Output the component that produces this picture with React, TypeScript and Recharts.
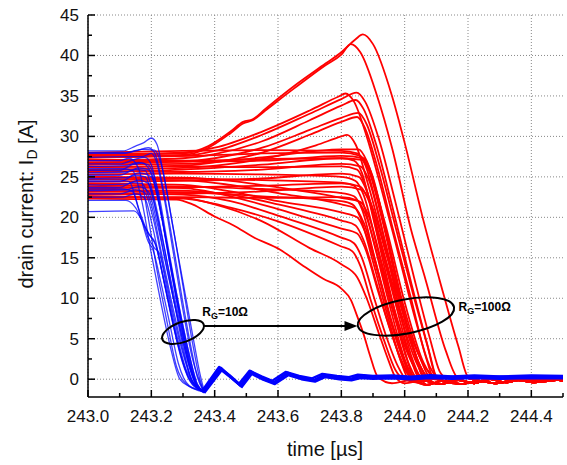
import {
  LineChart,
  Line,
  XAxis,
  YAxis,
  CartesianGrid,
  ReferenceDot,
  ReferenceLine,
} from 'recharts'

const font = 'Arial, "Liberation Sans", sans-serif'

// axis ticks
const xTicks = [243.0, 243.1, 243.2, 243.3, 243.4, 243.5, 243.6, 243.7, 243.8, 243.9, 244.0, 244.1, 244.2, 244.3, 244.4, 244.5]
const xMajor = [243.0, 243.2, 243.4, 243.6, 243.8, 244.0, 244.2, 244.4]
const yTicks = [0, 2.5, 5, 7.5, 10, 12.5, 15, 17.5, 20, 22.5, 25, 27.5, 30, 32.5, 35, 37.5, 40, 42.5, 45]
const yMajor = [0, 5, 10, 15, 20, 25, 30, 35, 40, 45]

// R_G = 100 ohm traces, [time µs, current A]
const redHigh = [
  [[243.0, 27.7], [243.3, 27.9], [243.38, 28.8], [243.45, 30.6], [243.49, 31.8], [243.52, 32.1], [243.56, 33.4], [243.65, 36.2], [243.75, 39.0], [243.8, 40.4], [243.845, 42.0], [243.868, 42.6], [243.9, 41.4], [243.96, 35], [244.0, 29.2], [244.06, 19.5], [244.11, 12.3], [244.17, 4], [244.2, 0.3]],
  [[243.0, 27.5], [243.3, 27.7], [243.38, 28.6], [243.45, 30.4], [243.49, 31.6], [243.52, 32.0], [243.56, 33.2], [243.65, 35.9], [243.75, 38.8], [243.8, 40.1], [243.83, 41.4], [243.86, 40.4], [243.913, 35], [243.96, 28.6], [244.02, 18.5], [244.066, 12.3], [244.13, 3.5], [244.165, 0.3]],
]
const redPeak = [
  [[243.0, 27.8], [243.3, 28.0], [243.4, 28.6], [243.55, 30.6], [243.7, 33.2], [243.79, 34.9], [243.813, 35.3], [243.84, 34.3], [243.88, 30], [243.93, 23], [243.98, 15.5], [244.04, 6.5], [244.08, 1.5], [244.1, 0.3]],
  [[243.0, 27.4], [243.3, 27.6], [243.4, 28.2], [243.55, 30.2], [243.7, 32.8], [243.8, 34.6], [243.848, 35.4], [243.875, 34.3], [243.92, 29.5], [243.97, 22], [244.03, 12.5], [244.08, 5], [244.11, 1], [244.125, 0.2]],
  [[243.0, 27.0], [243.3, 27.3], [243.4, 27.8], [243.55, 29.4], [243.7, 32.0], [243.8, 33.8], [243.845, 34.5], [243.87, 33.4], [243.91, 29], [243.96, 21.5], [244.02, 12], [244.07, 4.5], [244.1, 0.4]],
  [[243.0, 26.7], [243.3, 26.9], [243.4, 27.3], [243.55, 28.6], [243.7, 30.8], [243.8, 32.3], [243.854, 32.9], [243.88, 31.5], [243.92, 26.5], [243.97, 19], [244.03, 10], [244.08, 3], [244.1, 0.3]],
  [[243.0, 26.2], [243.3, 26.4], [243.4, 26.8], [243.55, 28.0], [243.7, 30.2], [243.8, 31.8], [243.85, 32.4], [243.875, 31], [243.915, 26], [243.96, 19], [244.02, 10], [244.065, 3], [244.09, 0.3]],
  [[243.0, 25.9], [243.3, 26.1], [243.45, 26.6], [243.6, 27.6], [243.72, 28.9], [243.8, 30.0], [243.818, 30.2], [243.845, 29], [243.885, 24], [243.94, 16], [244.0, 7.5], [244.045, 2], [244.07, 0.3]],
]
const redFlat = [
  [[243.0, 28.0], [243.3, 28.2], [243.55, 28.3], [243.8, 28.2], [243.85, 27.9], [243.875, 26.5], [243.92, 20], [243.97, 11], [244.02, 3], [244.05, 0.2]],
  [[243.0, 27.6], [243.3, 27.6], [243.55, 27.9], [243.8, 28.0], [243.86, 27.6], [243.885, 26], [243.93, 19.5], [243.98, 11], [244.03, 3.5], [244.06, 0.2]],
  [[243.0, 27.2], [243.3, 27.0], [243.55, 27.2], [243.8, 27.3], [243.84, 27.0], [243.865, 25.5], [243.9, 20], [243.95, 11.5], [244.0, 3.5], [244.03, 0.2]],
  [[243.0, 26.8], [243.3, 26.9], [243.55, 27.0], [243.8, 27.6], [243.87, 27.3], [243.895, 25.5], [243.94, 18.5], [243.99, 10], [244.05, 2.5], [244.08, 0.2]],
  [[243.0, 26.2], [243.3, 26.3], [243.55, 26.2], [243.8, 26.3], [243.85, 25.9], [243.875, 24], [243.92, 17], [243.97, 9.5], [244.02, 2.5], [244.045, 0.2]],
  [[243.0, 25.8], [243.3, 25.6], [243.55, 25.9], [243.8, 26.6], [243.86, 26.3], [243.885, 24.8], [243.935, 17.5], [243.99, 9], [244.045, 2], [244.07, 0.2]],
  [[243.0, 25.3], [243.3, 25.4], [243.55, 25.3], [243.8, 25.0], [243.845, 24.5], [243.87, 22.8], [243.915, 16], [243.96, 9], [244.01, 2.2], [244.035, 0.2]],
  [[243.0, 24.9], [243.3, 24.8], [243.55, 24.6], [243.8, 24.3], [243.84, 23.9], [243.865, 22.2], [243.905, 16.5], [243.95, 9.5], [244.0, 2.5], [244.025, 0.2]],
  [[243.0, 24.4], [243.3, 24.5], [243.55, 24.8], [243.8, 25.4], [243.855, 25.0], [243.88, 23.3], [243.93, 16], [243.985, 8], [244.04, 1.8], [244.065, 0.2]],
  [[243.0, 24.0], [243.3, 23.8], [243.55, 23.5], [243.8, 23.0], [243.84, 22.6], [243.865, 21], [243.905, 15], [243.95, 8], [244.0, 2], [244.02, 0.2]],
  [[243.0, 23.6], [243.3, 23.7], [243.55, 23.9], [243.8, 24.2], [243.86, 23.8], [243.885, 22.2], [243.935, 15.5], [243.99, 8], [244.05, 1.5], [244.075, 0.2]],
  [[243.0, 23.2], [243.3, 23.1], [243.55, 22.6], [243.8, 22.0], [243.835, 21.6], [243.86, 20], [243.9, 14.5], [243.945, 8], [243.99, 2], [244.01, 0.2]],
  [[243.0, 22.8], [243.3, 22.9], [243.55, 23.2], [243.8, 23.8], [243.865, 23.4], [243.89, 22], [243.945, 15], [244.0, 7.5], [244.07, 1.2], [244.1, 0.2]],
  [[243.0, 22.4], [243.3, 22.5], [243.55, 22.4], [243.8, 22.5], [243.85, 22.1], [243.875, 20.5], [243.92, 14.5], [243.97, 7.5], [244.03, 1.5], [244.055, 0.2]],
  [[243.0, 26.5], [243.3, 26.6], [243.55, 27.4], [243.8, 28.4], [243.855, 28.4], [243.88, 27], [243.925, 21], [243.975, 12], [244.03, 3.5], [244.06, 0.2]],
  [[243.0, 25.6], [243.3, 25.9], [243.55, 26.5], [243.8, 27.3], [243.865, 27.1], [243.89, 25.6], [243.94, 19], [244.0, 9.5], [244.06, 2], [244.09, 0.2]],
]
const redSag = [
  [[243.0, 23.0], [243.3, 22.8], [243.45, 22.0], [243.6, 20.2], [243.8, 17.5], [243.84, 16.8], [243.865, 15], [243.9, 10.5], [243.94, 5.5], [243.98, 1.5], [244.0, 0.2]],
  [[243.0, 23.4], [243.3, 23.3], [243.45, 22.8], [243.6, 21.6], [243.8, 19.6], [243.845, 19], [243.87, 17.2], [243.91, 12], [243.955, 6], [244.0, 1.5], [244.02, 0.2]],
  [[243.0, 24.2], [243.3, 24.0], [243.45, 23.2], [243.6, 22.0], [243.8, 20.6], [243.85, 20], [243.875, 18.2], [243.92, 12.5], [243.965, 6], [244.01, 1.2], [244.03, 0.2]],
  [[243.0, 24.7], [243.3, 24.6], [243.45, 24.0], [243.6, 23.0], [243.8, 21.6], [243.845, 21.1], [243.87, 19.4], [243.915, 13.5], [243.96, 7], [244.005, 1.8], [244.025, 0.2]],
  [[243.0, 25.0], [243.3, 24.9], [243.45, 24.5], [243.6, 23.7], [243.8, 22.4], [243.86, 21.9], [243.885, 20.3], [243.93, 14], [243.98, 7], [244.03, 1.5], [244.05, 0.2]],
  [[243.0, 23.8], [243.3, 23.6], [243.45, 22.6], [243.6, 21.0], [243.8, 18.6], [243.85, 18], [243.875, 16.2], [243.915, 11], [243.96, 5.5], [244.0, 1.2], [244.02, 0.2]],
  [[243.0, 22.6], [243.3, 22.3], [243.45, 21.2], [243.6, 19.5], [243.8, 16.4], [243.835, 15.8], [243.86, 14], [243.895, 9.5], [243.935, 4.8], [243.97, 1.2], [243.99, 0.2]],
  [[243.0, 22.6], [243.3, 22.4], [243.4, 21.6], [243.55, 19.5], [243.7, 16.2], [243.8, 14.2], [243.85, 12.6], [243.88, 10], [243.92, 5.5], [243.95, 2.2], [243.97, 0.3]],
  [[243.0, 22.3], [243.28, 22.2], [243.33, 21.6], [243.4, 20.1], [243.46, 19.0], [243.52, 17.6], [243.607, 16.0], [243.68, 14.0], [243.743, 12.4], [243.8, 11.2], [243.83, 9.8], [243.85, 7.8], [243.87, 5.6], [243.89, 3.0], [243.915, 0.3]],
]
// noisy settled current after turn-off
const redTails = [
  [[243.94, -0.3], [243.99, 0.2], [244.04, -0.4], [244.09, 0.1], [244.14, -0.3], [244.19, 0.2], [244.24, -0.2], [244.29, 0.2], [244.34, -0.2], [244.39, 0.1], [244.44, -0.1], [244.5, 0.2]],
  [[243.95, 0.1], [244.0, -0.5], [244.06, -0.1], [244.11, -0.6], [244.17, -0.1], [244.22, -0.5], [244.27, 0], [244.32, -0.4], [244.37, 0], [244.43, -0.3], [244.5, 0]],
  [[243.96, -0.5], [244.02, -0.1], [244.07, -0.7], [244.12, -0.2], [244.18, -0.6], [244.23, -0.2], [244.29, -0.5], [244.35, -0.1], [244.41, -0.4], [244.46, 0], [244.5, -0.2]],
]

// R_G = 10 ohm traces, fall edge
const blueFall = [
  [[243.0, 28.2], [243.11, 28.2], [243.15, 28.8], [243.175, 29.2], [243.2, 29.8], [243.218, 29.0], [243.24, 25], [243.27, 18.5], [243.3, 11.5], [243.33, 4.5], [243.35, 0.5], [243.366, -1.6]],
  [[243.0, 27.9], [243.11, 27.9], [243.15, 28.2], [243.19, 28.6], [243.21, 28.0], [243.235, 24], [243.265, 17.5], [243.295, 10.5], [243.325, 4], [243.345, 0.3], [243.365, -1.5]],
  [[243.0, 27.4], [243.12, 27.5], [243.17, 27.5], [243.2, 27.9], [243.215, 27.0], [243.24, 22.5], [243.27, 15.5], [243.3, 8.5], [243.33, 2.5], [243.365, -1.5]],
  [[243.0, 26.6], [243.1, 26.6], [243.15, 27.2], [243.18, 27.4], [243.2, 26.5], [243.225, 22], [243.255, 15], [243.29, 8], [243.32, 2.5], [243.345, -0.8], [243.364, -1.4]],
  [[243.0, 26.3], [243.12, 26.4], [243.16, 26.8], [243.19, 26.5], [243.22, 23.5], [243.25, 17], [243.285, 9.5], [243.32, 3], [243.345, -0.6], [243.365, -1.5]],
  [[243.0, 25.8], [243.1, 25.8], [243.14, 26.5], [243.17, 26.7], [243.2, 25.5], [243.23, 20.5], [243.26, 14], [243.29, 7.5], [243.32, 1.8], [243.345, -0.9], [243.366, -1.7]],
  [[243.0, 25.5], [243.12, 25.6], [243.16, 26.1], [243.19, 25.9], [243.215, 23.5], [243.245, 17.5], [243.28, 10], [243.31, 4], [243.34, -0.5], [243.365, -1.5]],
  [[243.0, 25.2], [243.1, 25.2], [243.15, 25.9], [243.18, 25.8], [243.205, 23], [243.24, 16.5], [243.27, 10], [243.3, 4], [243.33, -0.3], [243.364, -1.4]],
  [[243.0, 24.8], [243.12, 24.9], [243.16, 25.5], [243.2, 25.0], [243.225, 21.5], [243.26, 14.5], [243.29, 8.5], [243.32, 3], [243.345, -0.6], [243.365, -1.5]],
  [[243.0, 24.4], [243.1, 24.4], [243.15, 25.2], [243.18, 25.0], [243.21, 21.5], [243.24, 15.5], [243.275, 9], [243.31, 3], [243.34, -0.7], [243.366, -1.6]],
  [[243.0, 24.0], [243.12, 24.1], [243.16, 24.6], [243.19, 24.2], [243.22, 20], [243.255, 13.5], [243.29, 7], [243.32, 2], [243.345, -0.8], [243.365, -1.5]],
  [[243.0, 23.7], [243.1, 23.7], [243.14, 24.3], [243.17, 24.2], [243.2, 21.5], [243.235, 15], [243.27, 8.5], [243.3, 3.5], [243.33, -0.4], [243.364, -1.4]],
  [[243.0, 23.3], [243.12, 23.4], [243.16, 23.8], [243.19, 23.2], [243.22, 19], [243.255, 12.5], [243.29, 6.5], [243.32, 1.5], [243.345, -0.9], [243.365, -1.5]],
  [[243.0, 22.9], [243.1, 22.9], [243.15, 23.4], [243.18, 23.0], [243.205, 20], [243.24, 13.5], [243.275, 7], [243.305, 2.5], [243.335, -0.6], [243.366, -1.6]],
  [[243.0, 22.5], [243.11, 22.5], [243.15, 22.9], [243.18, 22.3], [243.2, 19.5], [243.23, 14], [243.26, 8.5], [243.29, 3.5], [243.32, 0], [243.365, -1.5]],
  [[243.0, 22.1], [243.12, 22.1], [243.15, 21.2], [243.18, 18.8], [243.2, 17.5], [243.215, 16.5], [243.24, 12], [243.27, 6.5], [243.3, 2], [243.33, -0.6], [243.364, -1.4]],
  [[243.0, 20.7], [243.145, 20.8], [243.17, 19.6], [243.19, 17.5], [243.21, 16.2], [243.225, 15.6], [243.25, 11], [243.28, 5.5], [243.31, 1.2], [243.34, -0.8], [243.365, -1.5]],
  [[243.0, 27.0], [243.1, 27.0], [243.13, 27.3], [243.16, 26], [243.19, 20], [243.22, 13], [243.25, 7], [243.28, 1.5], [243.31, -0.6], [243.366, -1.6]],
  [[243.0, 26.0], [243.11, 26.0], [243.14, 25.8], [243.17, 22], [243.2, 15.5], [243.23, 9.5], [243.26, 4], [243.29, 0], [243.32, -0.9], [243.365, -1.5]],
  [[243.0, 24.6], [243.1, 24.6], [243.13, 24.4], [243.16, 21], [243.19, 17], [243.205, 16], [243.23, 12], [243.26, 6.5], [243.285, 2], [243.32, -0.8], [243.364, -1.4]],
  [[243.0, 28.0], [243.12, 28.0], [243.17, 28.4], [243.21, 28.3], [243.235, 26], [243.265, 19.5], [243.3, 12], [243.335, 4.5], [243.355, 0.4], [243.368, -1.6]],
  [[243.0, 23.5], [243.11, 23.5], [243.14, 23.2], [243.165, 20.5], [243.19, 18], [243.21, 17], [243.235, 13], [243.265, 7.5], [243.295, 2.5], [243.33, -0.7], [243.365, -1.5]],
]
// ringing after turn-off
const blueRinging = [
  [[243.365, -1.5], [243.418, 1.3], [243.45, 0.3], [243.481, -0.75], [243.513, 0.85], [243.55, 0.15], [243.586, -0.4], [243.628, 0.7], [243.67, 0.2], [243.713, -0.1], [243.744, 0.45], [243.79, 0.2], [243.828, 0.05], [243.856, 0.35], [243.9, 0.2], [243.96, 0.28], [244.02, 0.15], [244.08, 0.32], [244.15, 0.2], [244.22, 0.3], [244.3, 0.2], [244.4, 0.3], [244.5, 0.25]],
  [[243.363, -1.3], [243.414, 1.5], [243.447, 0.5], [243.477, -0.55], [243.51, 1.05], [243.548, 0.35], [243.582, -0.2], [243.624, 0.9], [243.667, 0.4], [243.708, 0.1], [243.74, 0.65], [243.786, 0.4], [243.824, 0.25], [243.852, 0.55], [243.9, 0.4], [243.96, 0.45], [244.02, 0.3], [244.08, 0.5], [244.15, 0.35], [244.22, 0.45], [244.3, 0.35], [244.4, 0.45], [244.5, 0.4]],
  [[243.367, -1.7], [243.422, 1.1], [243.454, 0.1], [243.486, -0.95], [243.517, 0.65], [243.553, -0.05], [243.59, -0.6], [243.632, 0.5], [243.674, 0], [243.717, -0.3], [243.748, 0.25], [243.794, 0], [243.832, -0.15], [243.86, 0.15], [243.9, 0.05], [243.96, 0.1], [244.02, 0], [244.08, 0.15], [244.15, 0.05], [244.22, 0.15], [244.3, 0.05], [244.4, 0.15], [244.5, 0.1]],
  [[243.366, -1.6], [243.42, 1.4], [243.452, 0.2], [243.483, -0.85], [243.515, 0.95], [243.551, 0.05], [243.588, -0.5], [243.63, 0.8], [243.671, 0.1], [243.715, -0.2], [243.746, 0.55], [243.792, 0.1], [243.83, -0.05], [243.858, 0.45], [243.9, 0.3], [243.96, 0.2], [244.02, 0.25], [244.08, 0.25], [244.15, 0.3], [244.22, 0.2], [244.3, 0.3], [244.4, 0.2], [244.5, 0.3]],
]

const toPts = (arr: number[][]) => arr.map(([t, i]) => ({ t, i }))

function joinTail(trace: number[][], tail: number[][]) {
  const last = trace[trace.length - 1][0]
  return toPts([...trace, ...tail.filter((p) => p[0] > last + 0.012)])
}

const redData = [...redHigh, ...redPeak, ...redFlat, ...redSag].map((tr, k) =>
  joinTail(tr, redTails[k % redTails.length])
)
const blueData = blueFall.map((tr) => toPts(tr))
const ringData = blueRinging.map((tr) => toPts(tr))

function BottomTick(props: any) {
  const { x, y, payload } = props
  const major = xMajor.includes(payload.value)
  return (
    <g>
      <line x1={x} y1={y} x2={x} y2={y - (major ? 7 : 4)} stroke="#000" strokeWidth={1.5} />
      {major && (
        <text x={x} y={y + 25} textAnchor="middle" fontSize={17} fontFamily={font} fill="#111">
          {payload.value.toFixed(1)}
        </text>
      )}
    </g>
  )
}

function TopTick(props: any) {
  const { x, y, payload } = props
  const major = xMajor.includes(payload.value)
  return <line x1={x} y1={y} x2={x} y2={y + (major ? 7 : 4)} stroke="#000" strokeWidth={1.5} />
}

function LeftTick(props: any) {
  const { x, y, payload } = props
  const major = yMajor.includes(payload.value)
  return (
    <g>
      <line x1={x} y1={y} x2={x + (major ? 7 : 4)} y2={y} stroke="#000" strokeWidth={1.5} />
      {major && (
        <text x={x - 9} y={y + 6} textAnchor="end" fontSize={17} fontFamily={font} fill="#111">
          {payload.value}
        </text>
      )}
    </g>
  )
}

function RightTick(props: any) {
  const { x, y, payload } = props
  const major = yMajor.includes(payload.value)
  return <line x1={x} y1={y} x2={x - (major ? 7 : 4)} y2={y} stroke="#000" strokeWidth={1.5} />
}

const axisLine = { stroke: '#000', strokeWidth: 1.5 }

export default function App() {
  return (
    <div style={{ position: 'absolute', left: 0, top: 0, background: '#fff' }}>
      <LineChart width={567} height={465} margin={{ top: 15, right: 4, bottom: 0, left: 0 }}>
        <CartesianGrid
          stroke="#888"
          strokeDasharray="1 2"
          verticalValues={xMajor}
          horizontalValues={yMajor}
        />
        <XAxis
          dataKey="t"
          type="number"
          domain={[243.0, 244.5]}
          allowDataOverflow
          ticks={xTicks}
          interval={0}
          height={68}
          tickSize={0}
          tickMargin={0}
          tickLine={false}
          axisLine={axisLine}
          tick={<BottomTick />}
          label={{
            content: () => (
              <text x={325} y={456} textAnchor="middle" fontSize={20} fontFamily={font} fill="#111">
                time [µs]
              </text>
            ),
          }}
        />
        <XAxis
          xAxisId="top"
          orientation="top"
          dataKey="t"
          type="number"
          domain={[243.0, 244.5]}
          allowDataOverflow
          ticks={xTicks}
          interval={0}
          height={0}
          tickSize={0}
          tickMargin={0}
          tickLine={false}
          axisLine={axisLine}
          tick={<TopTick />}
        />
        <YAxis
          type="number"
          domain={[-2.2, 45]}
          allowDataOverflow
          ticks={yTicks}
          interval={0}
          width={88}
          tickSize={0}
          tickMargin={0}
          tickLine={false}
          axisLine={axisLine}
          tick={<LeftTick />}
          label={{
            content: () => (
              <text
                transform="translate(33,204) rotate(-90)"
                textAnchor="middle"
                fontSize={20}
                fontFamily={font}
                fill="#111"
              >
                drain current: I
                <tspan fontSize={14} dy={4}>D</tspan>
                <tspan dy={-4}> [A]</tspan>
              </text>
            ),
          }}
        />
        <YAxis
          yAxisId="right"
          orientation="right"
          type="number"
          domain={[-2.2, 45]}
          allowDataOverflow
          ticks={yTicks}
          interval={0}
          width={0}
          tickSize={0}
          tickMargin={0}
          tickLine={false}
          axisLine={axisLine}
          tick={<RightTick />}
        />
        {redData.map((d, k) => (
          <Line
            key={'r' + k}
            data={d}
            dataKey="i"
            type="monotone"
            stroke="#ff0000"
            strokeWidth={1.8}
            dot={false}
            activeDot={false}
            isAnimationActive={false}
          />
        ))}
        {blueData.map((d, k) => (
          <Line
            key={'b' + k}
            data={d}
            dataKey="i"
            type="monotone"
            stroke="#0000ff"
            strokeOpacity={0.75}
            strokeWidth={1.3}
            dot={false}
            activeDot={false}
            isAnimationActive={false}
          />
        ))}
        {ringData.map((d, k) => (
          <Line
            key={'g' + k}
            data={d}
            dataKey="i"
            type="linear"
            stroke="#0000ff"
            strokeWidth={2.4}
            strokeLinejoin="round"
            dot={false}
            activeDot={false}
            isAnimationActive={false}
          />
        ))}
        <ReferenceLine
          segment={[{ x: 243.364, y: 6.58 }, { x: 243.82, y: 6.58 }]}
          stroke="#000"
          strokeWidth={2}
        />
        <ReferenceDot
          x={243.851}
          y={6.58}
          r={0}
          shape={(p: any) => (
            <polygon
              points={`${p.cx},${p.cy} ${p.cx - 13},${p.cy - 5} ${p.cx - 13},${p.cy + 5}`}
              fill="#000"
            />
          )}
        />
        <ReferenceDot
          x={243.3}
          y={5.84}
          r={0}
          shape={(p: any) => (
            <ellipse
              cx={p.cx}
              cy={p.cy}
              rx={22}
              ry={10}
              transform={`rotate(-20 ${p.cx} ${p.cy})`}
              fill="none"
              stroke="#000"
              strokeWidth={2}
            />
          )}
        />
        <ReferenceDot
          x={244.004}
          y={7.75}
          r={0}
          shape={(p: any) => (
            <ellipse
              cx={p.cx}
              cy={p.cy}
              rx={49}
              ry={17}
              transform={`rotate(-11 ${p.cx} ${p.cy})`}
              fill="none"
              stroke="#000"
              strokeWidth={2}
            />
          )}
        />
        <ReferenceDot
          x={243.361}
          y={7.8}
          r={0}
          shape={(p: any) => (
            <text x={p.cx} y={p.cy} fontSize={12} fontWeight="bold" fontFamily={font} fill="#000">
              R<tspan fontSize={9} dy={3}>G</tspan>
              <tspan dy={-3}>=10Ω</tspan>
            </text>
          )}
        />
        <ReferenceDot
          x={244.17}
          y={8.47}
          r={0}
          shape={(p: any) => (
            <text x={p.cx} y={p.cy} fontSize={12} fontWeight="bold" fontFamily={font} fill="#000">
              R<tspan fontSize={9} dy={3}>G</tspan>
              <tspan dy={-3}>=100Ω</tspan>
            </text>
          )}
        />
      </LineChart>
    </div>
  )
}
